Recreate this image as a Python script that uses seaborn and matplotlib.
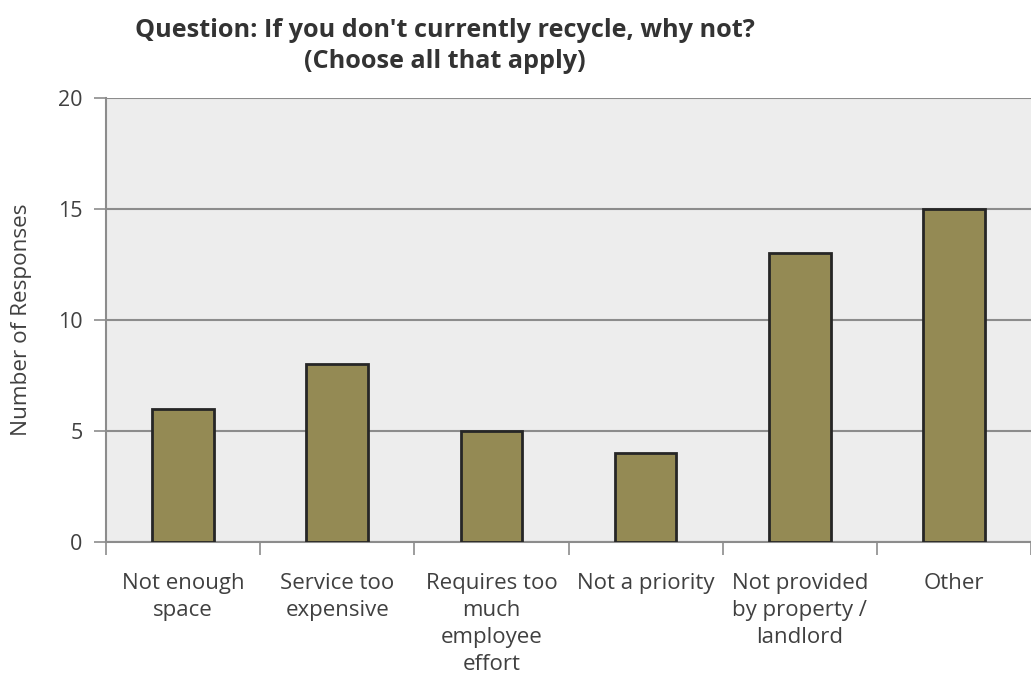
import matplotlib
matplotlib.use("Agg")
import matplotlib.pyplot as plt
import seaborn as sns
import pandas as pd

categories = ["Not enough\nspace", "Service too\nexpensive", "Requires too\nmuch\nemployee\neffort",
              "Not a priority", "Not provided\nby property /\nlandlord", "Other"]
responses = [6, 8, 5, 4, 13, 15]
yticks = [0, 5, 10, 15, 20]
title = "Question: If you don't currently recycle, why not?\n(Choose all that apply)"
ylabel = "Number of Responses"

sns.set_theme(style="white")
plt.rcParams['font.family'] = ['Open Sans', 'DejaVu Sans']

TXT = "#404040"
df = pd.DataFrame({"cat": categories, "n": responses})

fig = plt.figure(figsize=(10.31, 6.86), dpi=100)
ax = fig.add_axes([106/1031, 1 - 542/686, (1031 - 106)/1031, (542 - 98)/686])
ax.set_facecolor("#EDEDED")

sns.barplot(data=df, x="cat", y="n", color="#948A54", saturation=1, width=0.4,
            edgecolor="#262626", linewidth=2, ax=ax, zorder=3)

ax.set_ylim(0, 20)
ax.set_xlim(-0.5, len(categories) - 0.5)
ax.set_yticks(yticks)
ax.set_yticklabels([str(v) for v in yticks], fontsize=15.5, color=TXT)
ax.yaxis.grid(True, color="#8C8C8C", linewidth=1.5, zorder=0)
ax.set_axisbelow(True)

ax.set_xticks([i - 0.5 for i in range(len(categories) + 1)], minor=False)
ax.set_xticklabels([])
ax.set_xticks(range(len(categories)), minor=True)
ax.set_xticklabels(categories, minor=True, fontsize=16, color=TXT, linespacing=1.38)
ax.tick_params(axis="x", which="major", direction="out", length=9, width=1.2, color="#8C8C8C", bottom=True)
ax.tick_params(axis="x", which="minor", length=0, pad=22)
ax.tick_params(axis="y", direction="out", length=9, width=1.2, color="#8C8C8C", left=True, pad=8)

for s in ["top", "right"]:
    ax.spines[s].set_visible(False)
for s in ["left", "bottom"]:
    ax.spines[s].set_color("#8C8C8C")
    ax.spines[s].set_linewidth(1.5)

ax.set_xlabel("")
ax.set_ylabel("")
fig.text(22/1031, 1 - 320/686, ylabel, rotation=90, ha="center", va="center",
         fontsize=16.2, color=TXT)

fig.text(445/1031, 1 - 46/686, title, ha="center", va="center", fontsize=18.2,
         fontweight="bold", color="#333333", linespacing=1.28)

fig.savefig("out.png", dpi=100)
